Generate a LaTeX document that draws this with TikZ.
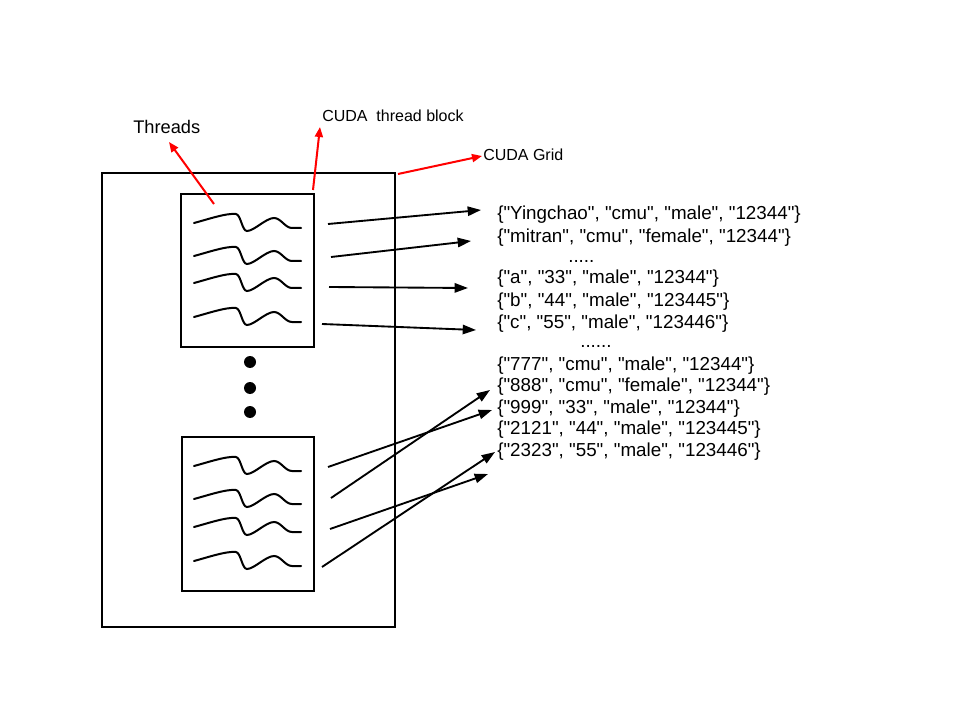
\documentclass[tikz,border=0pt]{standalone}
\usepackage{fontspec}
\newfontfamily\arialfont{Liberation Sans}
\usetikzlibrary{arrows.meta}
\begin{document}
\begin{tikzpicture}[x=0.75pt,y=-0.75pt,
  frame/.style={draw=black,line width=1.4pt},
  threadline/.style={draw=black,line width=1.5pt,line cap=round},
  redarrow/.style={draw=red,line width=1.5pt,-{Triangle[length=7.5pt,width=6pt]}},
  blackarrow/.style={draw=black,line width=1.4pt,-{Triangle[length=10pt,width=7pt]}},
  lbl/.style={inner sep=0pt,anchor=base west,font=\arialfont\fontsize{12pt}{14pt}\selectfont},
  rec/.style={inner sep=0pt,anchor=base west,font=\arialfont\fontsize{14.1pt}{16pt}\selectfont},
  dotnode/.style={circle,fill=black,inner sep=0pt,minimum size=9pt},
  thread/.pic={\path[threadline] (0,0) .. controls (15,-4) and (32,-10) .. (42,-9) .. controls (47,-8) and (48,8) .. (53,8) .. controls (60,8) and (72,-5) .. (80,-5) .. controls (87,-5) and (91,5) .. (98,5) -- (107,5);}
]
\useasboundingbox (0,0) rectangle (960,720);
% grid and blocks
\coordinate (gnw) at (102,173); \coordinate (gse) at (395,627);
\draw[frame] (gnw) rectangle (gse);
\coordinate (anw) at (181,194); \coordinate (ase) at (314,347);
\draw[frame] (anw) rectangle (ase);
\coordinate (bnw) at (182,437); \coordinate (bse) at (314,591);
\draw[frame] (bnw) rectangle (bse);
% threads
\pic at (194,223) {thread};
\pic at (194,256) {thread};
\pic at (194,283) {thread};
\pic at (194,317) {thread};
\pic at (194,466) {thread};
\pic at (194,499) {thread};
\pic at (194,527) {thread};
\pic at (194,561) {thread};
% dots
\node[dotnode] (d1) at (250,362) {};
\node[dotnode] (d2) at (250,388) {};
\node[dotnode] (d3) at (250,412) {};
% labels
\node[inner sep=0pt,anchor=base west,font=\arialfont\fontsize{13.7pt}{16pt}\selectfont] (lthreads) at (133,134) {Threads};
\node[lbl] (lblock) at (322,122) {CUDA\ \ thread block};
\node[lbl] (lgrid) at (483,161) {CUDA Grid};
% red arrows
\coordinate (t0) at (214,204); \coordinate (t1) at (169,142);
\coordinate (k0) at (313,190); \coordinate (k1) at (320,127);
\coordinate (g0) at (398,174); \coordinate (g1) at (482,156);
\draw[redarrow] (t0) -- (t1);
\draw[redarrow] (k0) -- (k1);
\draw[redarrow] (g0) -- (g1);
% records
\node[rec] (r1) at (497,220) {\{"Yingchao", "cmu", "male", "12344"\}};
\node[rec] (r2) at (497,243) {\{"mitran", "cmu", "female", "12344"\}};
\node[rec] (e1) at (568,263) {.....};
\node[rec] (r3) at (497,284) {\{"a", "33", "male", "12344"\}};
\node[rec] (r4) at (497,306) {\{"b", "44", "male", "123445"\}};
\node[rec] (r5) at (497,328) {\{"c", "55", "male", "123446"\}};
\node[rec] (e2) at (580,347) {......};
\node[rec] (r6) at (497,370) {\{"777", "cmu", "male", "12344"\}};
\node[rec] (r7) at (497,391) {\{"888", "cmu", "female", "12344"\}};
\node[rec] (r8) at (497,413) {\{"999", "33", "male", "12344"\}};
\node[rec] (r9) at (497,434) {\{"2121", "44", "male", "123445"\}};
\node[rec] (r10) at (497,456) {\{"2323", "55", "male", "123446"\}};
% black arrows
\coordinate (a1) at (328,224); \coordinate (a1e) at (481,210);
\coordinate (a2) at (331,257); \coordinate (a2e) at (471,241);
\coordinate (a3) at (329,287); \coordinate (a3e) at (468,288);
\coordinate (a4) at (322,324); \coordinate (a4e) at (476,330);
\coordinate (b1) at (328,467); \coordinate (b1e) at (492,410);
\coordinate (b2) at (331,498); \coordinate (b2e) at (490,390);
\coordinate (b3) at (330,529); \coordinate (b3e) at (488,474);
\coordinate (b4) at (322,567); \coordinate (b4e) at (495,452);
\draw[blackarrow] (a1) -- (a1e);
\draw[blackarrow] (a2) -- (a2e);
\draw[blackarrow] (a3) -- (a3e);
\draw[blackarrow] (a4) -- (a4e);
\draw[blackarrow] (b1) -- (b1e);
\draw[blackarrow] (b2) -- (b2e);
\draw[blackarrow] (b3) -- (b3e);
\draw[blackarrow] (b4) -- (b4e);
\end{tikzpicture}
\end{document}
